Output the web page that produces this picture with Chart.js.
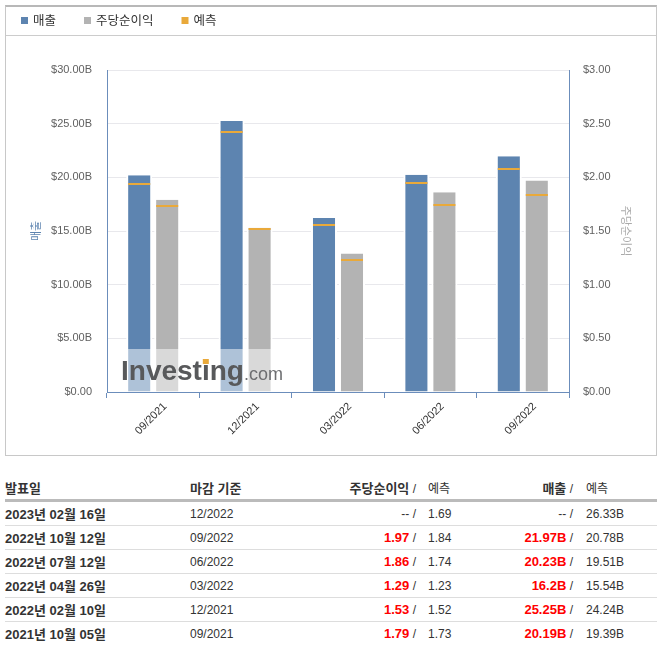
<!DOCTYPE html>
<html>
<head>
<meta charset="utf-8">
<script src="https://cdn.jsdelivr.net/npm/chart.js@4.4.1/dist/chart.umd.min.js"></script>
<style>
body { margin: 0; background: #fff; font-family: "Liberation Sans", "Noto Sans CJK KR", sans-serif; }
#box { position: absolute; left: 5px; top: 5px; width: 650px; height: 448px; border: 1px solid #c8c8c8; border-top: 2px solid #b8b8b8; }
#box canvas { display: block; }
#earnings { position: absolute; left: 5px; top: 475px; width: 652px; border-collapse: collapse; table-layout: fixed; color: #333; font-size: 12px; }
#earnings th, #earnings td { padding: 0; white-space: nowrap; }
#earnings th { height: 24px; border-bottom: 3px solid #bbb; font-weight: bold; font-size: 13px; text-align: left; }
#earnings td { height: 23px; border-bottom: 1px solid #ddd; }
#earnings tr:last-child td { border-bottom: none; }
#earnings .date { font-weight: bold; font-size: 13px; }
#earnings .num { text-align: right; }
#earnings .fc { padding-left: 12px; }
#earnings .fc2 { padding-left: 13px; }
#earnings .red { color: #ff0000; font-weight: bold; font-size: 13px; }
#earnings .sl { font-weight: normal; font-size: 12px; color: #333; }
</style>
</head>
<body>
<div id="box"><canvas id="myChart"></canvas></div>
<table id="earnings">
  <colgroup><col style="width:185px"><col style="width:140px"><col style="width:86px"><col style="width:92px"><col style="width:65px"><col style="width:84px"></colgroup>
  <thead><tr><th>발표일</th><th>마감 기준</th><th class="num">주당순이익<span class="sl"> /</span></th><th class="fc" style="font-weight:normal;font-size:12px">예측</th><th class="num">매출<span class="sl"> /</span></th><th class="fc2" style="font-weight:normal;font-size:12px">예측</th></tr></thead>
  <tbody id="rows"></tbody>
</table>
<script>
// chart data (oldest first)
const periods = ['09/2021', '12/2021', '03/2022', '06/2022', '09/2022'];
const revenue = [20.19, 25.25, 16.2, 20.23, 21.97];
const revenueForecast = [19.39, 24.24, 15.54, 19.51, 20.78];
const eps = [1.79, 1.53, 1.29, 1.86, 1.97];
const epsForecast = [1.73, 1.52, 1.23, 1.74, 1.84];

// table data (newest first)
const releaseDates = ['2023년 02월 16일', '2022년 10월 12일', '2022년 07월 12일', '2022년 04월 26일', '2022년 02월 10일', '2021년 10월 05일'];
const periodEnds = ['12/2022', '09/2022', '06/2022', '03/2022', '12/2021', '09/2021'];
const tableEps = [null, 1.97, 1.86, 1.29, 1.53, 1.79];
const tableEpsForecast = [1.69, 1.84, 1.74, 1.23, 1.52, 1.73];
const tableRevenue = [null, 21.97, 20.23, 16.2, 25.25, 20.19];
const tableRevenueForecast = [26.33, 20.78, 19.51, 15.54, 24.24, 19.39];

const revenueMax = 30, revenueStep = 5;
const epsMax = 3, epsStep = 0.5;

const blue = '#5d84b0';
const grey = '#b3b3b3';
const orange = '#e9a93a';
const axisBlue = '#6b8dbb';
const family = '"Liberation Sans", "Noto Sans CJK KR", sans-serif';

// table
let html = '';
for (let i = 0; i < releaseDates.length; i++) {
    const e = tableEps[i] == null ? '<span class="sl">--</span>' : '<span class="red">' + tableEps[i] + '</span>';
    const r = tableRevenue[i] == null ? '<span class="sl">--</span>' : '<span class="red">' + tableRevenue[i] + 'B</span>';
    html += `<tr>
        <td class="date">${releaseDates[i]}</td>
        <td>${periodEnds[i]}</td>
        <td class="num">${e}<span class="sl"> /</span></td>
        <td class="fc">${tableEpsForecast[i]}</td>
        <td class="num">${r}<span class="sl"> /</span></td>
        <td class="fc2">${tableRevenueForecast[i]}B</td>
    </tr>`;
}
document.getElementById('rows').innerHTML = html;

// orange forecast marks on top of each bar
const forecastLines = {
    id: 'forecastLines',
    afterDatasetsDraw(chart) {
        const ctx = chart.ctx;
        const sets = [[0, revenueForecast, 'y'], [1, epsForecast, 'y1']];
        ctx.save();
        ctx.fillStyle = orange;
        sets.forEach(([di, vals, axis]) => {
            const meta = chart.getDatasetMeta(di);
            const scale = chart.scales[axis];
            meta.data.forEach((bar, i) => {
                const y = Math.round(scale.getPixelForValue(vals[i]));
                const half = bar.width / 2 - 2;
                ctx.fillRect(bar.x - half, y - 1, half * 2, 2);
            });
        });
        ctx.restore();
    }
};

// Investing.com watermark
const watermark = {
    id: 'watermark',
    afterDraw(chart) {
        const ctx = chart.ctx;
        const a = chart.chartArea;
        ctx.save();
        ctx.fillStyle = 'rgba(255,255,255,0.5)';
        ctx.fillRect(a.left + 13, a.bottom - 43, 162, 43);
        const x = a.left + 14, base = a.bottom - 12;
        ctx.textBaseline = 'alphabetic';
        ctx.font = 'bold 28px "Liberation Sans"';
        ctx.fillStyle = '#58595b';
        ctx.fillText('Investing', x, base);
        const w = ctx.measureText('Investing').width;
        const wi = ctx.measureText('Invest').width;
        const iw = ctx.measureText('i').width;
        ctx.fillStyle = orange;
        ctx.fillRect(x + wi + iw / 2 - 3, base - 21, 6, 5);
        ctx.font = '18px "Liberation Sans"';
        ctx.fillStyle = '#6d6e71';
        ctx.fillText('.com', x + w, base);
        ctx.restore();
    }
};

// legend row with separator
const headerLegend = {
    id: 'headerLegend',
    afterDraw(chart) {
        const ctx = chart.ctx;
        const items = chart.data.datasets.map(d => ({ text: d.label, color: d.backgroundColor }));
        items.push({ text: '예측', color: orange });
        ctx.save();
        ctx.fillStyle = '#cccccc';
        ctx.fillRect(0, 28, chart.width, 1);
        ctx.font = '12.5px "Noto Sans CJK KR"';
        ctx.textBaseline = 'middle';
        let x = 15;
        items.forEach(item => {
            ctx.fillStyle = item.color;
            ctx.fillRect(x, 10, 7, 7);
            ctx.fillStyle = '#333';
            ctx.fillText(item.text, x + 12, 13.5);
            x += 12 + ctx.measureText(item.text).width + 28;
        });
        ctx.restore();
    }
};

const ctx = document.getElementById('myChart').getContext('2d');
const myChart = new Chart(ctx, {
    type: 'bar',
    data: {
        labels: periods,
        datasets: [{
            label: '매출',
            data: revenue,
            yAxisID: 'y',
            backgroundColor: blue,
            borderColor: '#fff',
            borderWidth: { left: 2, right: 2, top: 0, bottom: 0 },
            categoryPercentage: 0.606,
            barPercentage: 0.93
        }, {
            label: '주당순이익',
            data: eps,
            yAxisID: 'y1',
            backgroundColor: grey,
            borderColor: '#fff',
            borderWidth: { left: 2, right: 2, top: 0, bottom: 0 },
            categoryPercentage: 0.606,
            barPercentage: 0.93
        }]
    },
    options: {
        responsive: true,
        maintainAspectRatio: false,
        animation: false,
        layout: { padding: { top: 63, left: 4, right: 23, bottom: 0 } },
        plugins: { legend: { display: false }, tooltip: { enabled: false } },
        scales: {
            x: {
                offset: true,
                grid: { drawOnChartArea: false, drawTicks: true, tickLength: 6, color: axisBlue, offset: true },
                border: { color: axisBlue },
                ticks: { minRotation: 45, maxRotation: 45, labelOffset: 12, padding: 2, color: '#333', font: { size: 11, family: family } },
                afterFit(s) { s.height = 63; }
            },
            y: {
                position: 'left',
                min: 0,
                max: revenueMax,
                ticks: { stepSize: revenueStep, padding: 15, color: '#606060', font: { size: 11, family: family },
                    callback: v => '$' + v.toFixed(2) + (v === 0 ? '' : 'B') },
                grid: { color: '#e8e8ec', drawTicks: false },
                border: { color: axisBlue },
                title: { display: true, text: '매출', color: blue, font: { size: 11, family: family }, padding: { top: 20, bottom: 0 } },
                afterFit(s) { s.width = 97; }
            },
            y1: {
                position: 'right',
                min: 0,
                max: epsMax,
                ticks: { stepSize: epsStep, padding: 14, color: '#606060', font: { size: 11, family: family },
                    callback: v => '$' + v.toFixed(2) },
                grid: { drawOnChartArea: false, drawTicks: false },
                border: { color: axisBlue },
                title: { display: true, text: '주당순이익', color: '#aaaaaa', font: { size: 11, family: family }, padding: { top: 1, bottom: 0 } },
                afterFit(s) { s.width = 64; }
            }
        }
    },
    plugins: [forecastLines, watermark, headerLegend]
});
</script>
</body>
</html>
